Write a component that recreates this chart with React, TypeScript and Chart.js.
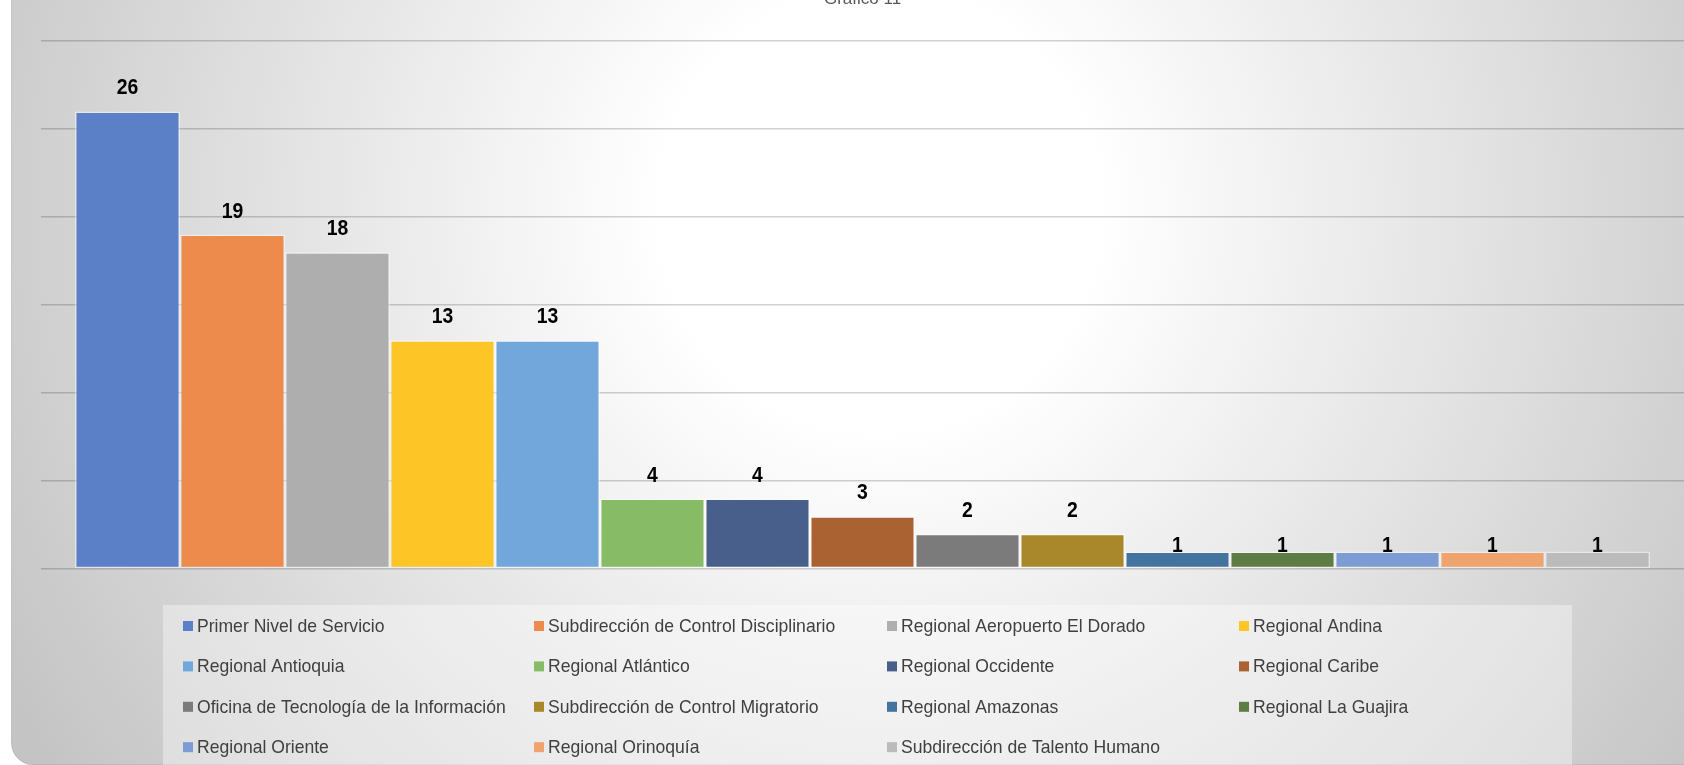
import React, { useEffect, useRef } from "react";
import { Chart, registerables } from "chart.js";

Chart.register(...registerables);

const TITLE = "Gráfico 11";
const CATEGORIES = [""];
const SERIES_NAMES = [
  "Primer Nivel de Servicio",
  "Subdirección de Control Disciplinario",
  "Regional Aeropuerto El Dorado",
  "Regional Andina",
  "Regional Antioquia",
  "Regional Atlántico",
  "Regional Occidente",
  "Regional Caribe",
  "Oficina de Tecnología de la Información",
  "Subdirección de Control Migratorio",
  "Regional Amazonas",
  "Regional La Guajira",
  "Regional Oriente",
  "Regional Orinoquía",
  "Subdirección de Talento Humano",
];
const SERIES_VALUES = [26, 19, 18, 13, 13, 4, 4, 3, 2, 2, 1, 1, 1, 1, 1];
const SERIES_COLORS = [
  "#5B80C8",
  "#EC8B4B",
  "#AEAEAE",
  "#FDC526",
  "#71A7DB",
  "#88BB66",
  "#485F8C",
  "#AB6233",
  "#7B7B7B",
  "#A8882A",
  "#44739F",
  "#5E7D46",
  "#7C9CD3",
  "#EFA46F",
  "#BBBBBB",
];
const Y_TICKS = [0, 5, 10, 15, 20, 25, 30];

const W = 1684;
const OFF = 20; // canvas sits 20px above the page top (title is cut)
const H = 765 + OFF;
const FONT = "'Liberation Sans', Arial, sans-serif";

function drawCondensed(
  ctx: CanvasRenderingContext2D,
  text: string,
  x: number,
  y: number,
  sx: number
) {
  ctx.save();
  ctx.translate(x, y);
  ctx.scale(sx, 1);
  ctx.fillText(text, 0, 0);
  ctx.restore();
}

const panelPlugin = {
  id: "panel",
  beforeDraw(chart: any) {
    const ctx = chart.ctx as CanvasRenderingContext2D;
    ctx.save();
    const cx = 880, cy = 210 + OFF;
    const g = ctx.createRadialGradient(cx, cy, 0, cx, cy, 1000);
    g.addColorStop(0, "#ffffff");
    g.addColorStop(0.22, "#ffffff");
    g.addColorStop(1, "#c4c4c4");
    const left = 11.5, bottom = H, r = 22;
    ctx.beginPath();
    ctx.moveTo(left, 0);
    ctx.lineTo(left, bottom - r);
    ctx.arcTo(left, bottom, left + r, bottom, r);
    ctx.lineTo(W + 20, bottom);
    ctx.lineTo(W + 20, 0);
    ctx.closePath();
    ctx.fillStyle = g;
    ctx.fill();
    ctx.strokeStyle = "rgba(0,0,0,0.14)";
    ctx.lineWidth = 1;
    ctx.stroke();

    const lx = 163, ly = 605 + OFF;
    ctx.fillStyle = "rgba(255,255,255,0.37)";
    ctx.fillRect(lx, ly, 1409, H - ly + 2);

    const colX = [183, 534, 887, 1239];
    const datasets = chart.data.datasets;
    ctx.font = `18.5px ${FONT}`;
    ctx.textBaseline = "middle";
    ctx.textAlign = "left";
    datasets.forEach((ds: any, i: number) => {
      const col = i % 4;
      const row = Math.floor(i / 4);
      const x = colX[col];
      const y = 626 + row * 40.4 + OFF;
      ctx.fillStyle = ds.backgroundColor;
      ctx.fillRect(x, y - 5, 10, 10);
      ctx.fillStyle = "#404040";
      drawCondensed(ctx, ds.label, x + 14, y + 1, 0.95);
    });
    ctx.restore();
  },
};

const labelPlugin = {
  id: "barLabels",
  afterDatasetsDraw(chart: any) {
    const ctx = chart.ctx as CanvasRenderingContext2D;
    ctx.save();
    ctx.font = `bold 22px ${FONT}`;
    ctx.fillStyle = "#000000";
    ctx.textAlign = "center";
    ctx.textBaseline = "alphabetic";
    chart.data.datasets.forEach((ds: any, i: number) => {
      const meta = chart.getDatasetMeta(i);
      const el = meta.data[0];
      if (!el) return;
      const v = ds.data[0];
      const y = el.y - (v > 1 ? 17 : -1);
      drawCondensed(ctx, String(v), el.x, y, 0.88);
    });
    ctx.restore();
  },
};

export default function App() {
  const ref = useRef<HTMLCanvasElement>(null);

  useEffect(() => {
    if (!ref.current) return;
    const chart = new Chart(ref.current, {
      type: "bar",
      data: {
        labels: CATEGORIES,
        datasets: SERIES_NAMES.map((name, i) => ({
          label: name,
          data: [SERIES_VALUES[i]],
          backgroundColor: SERIES_COLORS[i],
          borderColor: "rgba(255,255,255,0.45)",
          borderWidth: 1.5,
          borderSkipped: false,
          categoryPercentage: 0.9586,
          barPercentage: 1,
        })),
      },
      options: {
        responsive: false,
        animation: false,
        devicePixelRatio: 1,
        layout: { padding: { left: 41, right: 0, top: 0, bottom: 196 } },
        plugins: {
          legend: { display: false },
          tooltip: { enabled: false },
          title: {
            display: true,
            text: TITLE,
            color: "#595959",
            font: { family: FONT, size: 17, weight: "normal" },
            padding: { top: 9, bottom: 31.6 },
          },
        },
        scales: {
          x: { display: false, offset: true },
          y: {
            min: 0,
            max: 30,
            afterBuildTicks: (s: any) => {
              s.ticks = Y_TICKS.map((v) => ({ value: v }));
            },
            ticks: { display: false },
            grid: { color: "rgba(0,0,0,0.18)", lineWidth: 1.5, drawTicks: false },
            border: { display: false },
          },
        },
      } as any,
      plugins: [panelPlugin, labelPlugin],
    });
    return () => chart.destroy();
  }, []);

  return (
    <div style={{ position: "absolute", left: 0, top: -OFF, width: W, height: H }}>
      <canvas ref={ref} width={W} height={H} style={{ display: "block", width: W, height: H }} />
    </div>
  );
}
